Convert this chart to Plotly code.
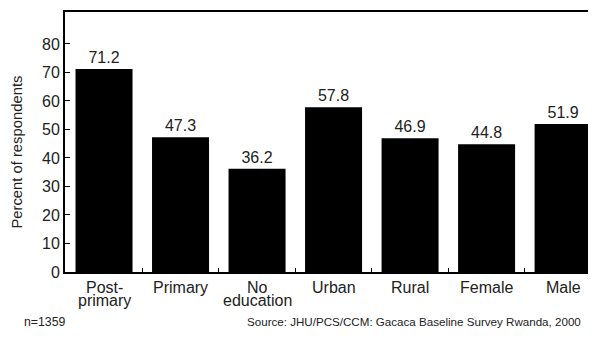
import plotly.graph_objects as go

categories = ["Post-<br>primary", "Primary", "No<br>education", "Urban", "Rural", "Female", "Male"]
values = [71.2, 47.3, 36.2, 57.8, 46.9, 44.8, 51.9]
y_ticks = [0, 10, 20, 30, 40, 50, 60, 70, 80]

FONT = "Liberation Sans, Arial, sans-serif"
TXT = "#222222"

fig = go.Figure(go.Bar(
    x=categories, y=values,
    marker=dict(color="black", line=dict(width=0)),
    text=[f"{v:.1f}" for v in values],
    textposition="outside",
    textfont=dict(family=FONT, size=16, color=TXT),
    cliponaxis=False,
))

# category labels drawn as annotations to get the tight line spacing of the reference
label_annotations = []
for cat in categories:
    for j, line in enumerate(cat.split("<br>")):
        label_annotations.append(dict(
            text=line, xref="x", yref="paper", x=cat, y=0,
            xanchor="center", yanchor="top", yshift=-5 - 13 * j,
            showarrow=False, font=dict(family=FONT, size=16, color=TXT)))

# page body has an 8px default margin, so the figure is sized 8px smaller
fig.update_layout(
    width=588, height=338,
    margin=dict(l=57, r=0, t=4, b=74),
    paper_bgcolor="white", plot_bgcolor="white",
    bargap=0.255,
    showlegend=False,
    font=dict(family=FONT, size=16, color=TXT),
    xaxis=dict(
        range=[-0.51, 6.43],
        automargin=False,
        showticklabels=False,
        showline=True, linecolor="black", linewidth=2, mirror=True,
        ticks="inside", ticklen=4, tickcolor="black", tickwidth=1,
        tickson="boundaries",
        showgrid=False,
    ),
    yaxis=dict(
        range=[0, 91.2],
        automargin=False,
        tickvals=y_ticks,
        showline=True, linecolor="black", linewidth=2,
        ticks="inside", ticklen=5, tickcolor="black", tickwidth=1,
        showgrid=False, zeroline=False,
        tickfont=dict(family=FONT, size=16, color=TXT),
    ),
    annotations=label_annotations + [
        dict(text="Percent of respondents", xref="paper", yref="paper", x=-0.090, y=0.46,
             xanchor="center", yanchor="middle", textangle=-90, showarrow=False,
             font=dict(family=FONT, size=14.8, color=TXT)),
        dict(text="n=1359", xref="paper", yref="paper", x=-0.081, y=-0.192,
             xanchor="left", yanchor="middle", showarrow=False,
             font=dict(family=FONT, size=12.3, color=TXT)),
        dict(text="Source: JHU/PCS/CCM: Gacaca Baseline Survey Rwanda, 2000", xref="paper", yref="paper",
             x=0.9755, y=-0.192, xanchor="right", yanchor="middle", showarrow=False,
             font=dict(family=FONT, size=11.6, color=TXT)),
    ],
)

fig.write_html("out.html")
